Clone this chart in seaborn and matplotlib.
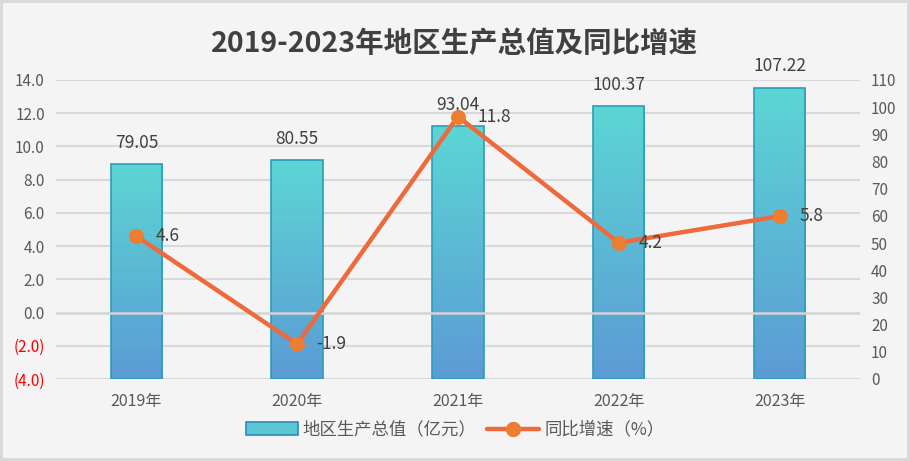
import numpy as np
import pandas as pd
import matplotlib
matplotlib.use("Agg")
import matplotlib.pyplot as plt
import seaborn as sns
from matplotlib.patches import Patch
from matplotlib.lines import Line2D
from matplotlib.ticker import FuncFormatter, MultipleLocator

years = ["2019年", "2020年", "2021年", "2022年", "2023年"]
gdp = [79.05, 80.55, 93.04, 100.37, 107.22]
growth = [4.6, -1.9, 11.8, 4.2, 5.8]

sns.set_style("white")
plt.rcParams["font.family"] = ["Noto Sans CJK SC", "DejaVu Sans"]

bg = "#F4F4F4"
txt = "#595959"
grid_c = "#D9D9D9"

fig = plt.figure(figsize=(9.1, 4.61), dpi=100, facecolor=bg,
                 edgecolor="#D9D9D9", linewidth=4)
ax = fig.add_axes([0.0615, 0.178, 0.8835, 0.6485])
ax.set_facecolor(bg)

df = pd.DataFrame({"year": years, "gdp": gdp})
sns.barplot(data=df, x="year", y="gdp", ax=ax, width=0.32,
            color="#5BC8D2", edgecolor="#2C9DB8", linewidth=1.2, zorder=2)

# gradient fill for bars
grad = np.linspace(0, 1, 256).reshape(-1, 1)
cmap = matplotlib.colors.LinearSegmentedColormap.from_list(
    "g", ["#5B9BD5", "#5CD6D4"])
for p in ax.patches:
    x0, w, h = p.get_x(), p.get_width(), p.get_height()
    im = ax.imshow(grad, extent=[x0, x0 + w, 0, h], origin="lower",
                   cmap=cmap, aspect="auto", zorder=2.1)
    im.set_clip_path(p)
    p.set_zorder(2.2)
    p.set_facecolor("none")
ax.set_xlim(-0.5, 4.5)
ax.set_ylim(0, 110)

ax.bar_label(ax.containers[0], fmt="%.2f", padding=9, fontsize=12.5,
             color="#404040")

ax.set_xlabel("")
ax.set_ylabel("")

# gridlines following the left axis ticks
for v in np.arange(-4, 15, 2):
    if v == 0:
        continue
    ax.axhline((v + 4) / 18 * 110, color=grid_c, lw=1.5, zorder=0)

# left axis for the growth line
ax2 = ax.twinx()
ax2.set_ylim(-4, 14)
ax2.axhline(0, color="#D4D4D4", lw=1.8, zorder=1)
sns.lineplot(x=list(range(len(years))), y=growth, ax=ax2, color="#EE6A3C",
             lw=3.2, marker="o", markersize=10, markerfacecolor="#ED7D31",
             markeredgecolor="#ED7D31", zorder=3)

# bars use the right axis, line uses the left one
ax.yaxis.tick_right()
ax.yaxis.set_major_locator(MultipleLocator(10))
ax.tick_params(axis="y", length=0, labelsize=11, labelcolor=txt, pad=8)
ax.tick_params(axis="x", length=0, labelsize=11.5, labelcolor=txt, pad=10)
ax2.yaxis.tick_left()
ax2.yaxis.set_major_locator(MultipleLocator(2))
ax2.yaxis.set_major_formatter(FuncFormatter(
    lambda v, _: f"({abs(v):.1f})" if v < 0 else f"{v:.1f}"))
ax2.tick_params(axis="y", length=0, labelsize=11, labelcolor=txt, pad=8)
fig.canvas.draw()
for lab, v in zip(ax2.get_yticklabels(), ax2.get_yticks()):
    if v < 0:
        lab.set_color("red")

for i, v in enumerate(growth):
    ax2.annotate(f"{v}", (i, v), xytext=(14, 0), textcoords="offset points",
                 ha="left", va="center", fontsize=12.5, color="#404040")

for a in (ax, ax2):
    for s in a.spines.values():
        s.set_visible(False)

fig.suptitle("2019-2023年地区生产总值及同比增速", y=0.935, fontsize=20.5,
             fontweight="bold", color="#404040")

handles = [
    Patch(facecolor="#5BC8D2", edgecolor="#2C8AC0", linewidth=1.2),
    Line2D([0], [0], color="#EE6A3C", lw=3.2, marker="o", markersize=10,
           markerfacecolor="#ED7D31", markeredgecolor="#ED7D31"),
]
fig.legend(handles, ["地区生产总值（亿元）", "同比增速（%）"], loc="center",
           bbox_to_anchor=(0.5, 0.068), ncol=2, frameon=False, fontsize=12.5,
           labelcolor=txt, handlelength=3, handletextpad=0.3, columnspacing=0.6)

fig.savefig("out.png", dpi=100, facecolor=bg, edgecolor="#D9D9D9")
